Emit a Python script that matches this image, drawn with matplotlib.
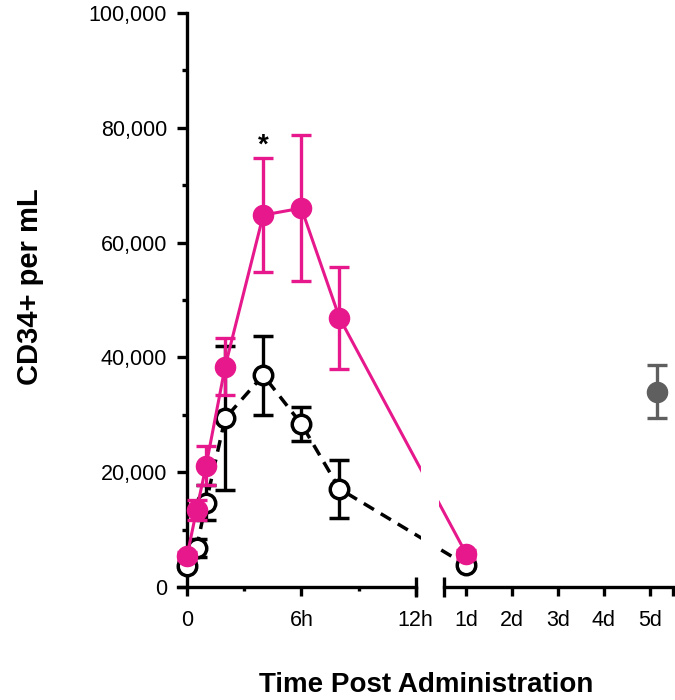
import matplotlib
matplotlib.use("Agg")
import matplotlib.pyplot as plt
from matplotlib.ticker import FuncFormatter, FixedLocator
import numpy as np

plt.rcParams['font.family'] = ['Liberation Sans', 'DejaVu Sans']

# ---------------- data ----------------
hours = [0, 0.5, 1, 2, 4, 6, 8]          # early time points (hours)
day_pts = [1]                           # late time points (days)

pink_hours_mean = [5400, 13400, 21100, 38400, 64800, 66000, 46900]
pink_hours_err = [700, 1700, 3400, 4900, 9900, 12700, 8900]
pink_day_mean = [5700]
pink_day_err = [800]

black_hours_mean = [3700, 6800, 14700, 29400, 36900, 28400, 17100]
black_hours_err = [600, 1500, 3100, 12500, 6900, 2900, 5000]
black_day_mean = [3800]
black_day_err = [500]

gray_day = [5.17]
gray_mean = [34000]
gray_err = [4600]

hour_ticks = [0, 6, 12]
hour_labels = ['0', '6h', '12h']
hour_minor = [3, 9]
day_ticks = [1, 2, 3, 4, 5]
day_labels = ['1d', '2d', '3d', '4d', '5d']
day_minor = [5.5]
y_ticks = [0, 20000, 40000, 60000, 80000, 100000]

PINK = '#E6188C'
GRAY = '#5F5F5F'
LW = 2.4

# ---------------- figure ----------------
fig = plt.figure(figsize=(6.75, 7), dpi=100)
W, H = 675.0, 700.0
bottom = 1 - 587 / H
height = 574 / H
ax1 = fig.add_axes([177.5 / W, bottom, (421.4 - 177.5) / W, height])
ax2 = fig.add_axes([439.0 / W, bottom, (672.6 - 439.0) / W, height])

ax1.set_xlim(-0.5, 12.3)
ax2.set_xlim(0.4, 5.5)
for ax in (ax1, ax2):
    ax.set_ylim(0, 100000)
    ax.patch.set_alpha(0)
    for s in ('top', 'right'):
        ax.spines[s].set_visible(False)
    ax.spines['bottom'].set_linewidth(LW)

ax1.spines['left'].set_position(('data', 0))
ax1.spines['left'].set_linewidth(LW)
ax1.spines['bottom'].set_bounds(-0.5, 12)
ax2.spines['left'].set_visible(False)
ax2.spines['bottom'].set_bounds(0.5, 5.5)
ax2.tick_params(axis='y', left=False, labelleft=False)

# y axis ticks
ax1.yaxis.set_major_locator(FixedLocator(y_ticks))
ax1.yaxis.set_minor_locator(FixedLocator(np.arange(10000, 100000, 20000)))
ax1.yaxis.set_major_formatter(FuncFormatter(lambda v, p: f"{int(v):,}"))
ax1.tick_params(axis='y', which='major', length=7.5, width=LW, labelsize=15.5, pad=7, direction='out')
ax1.tick_params(axis='y', which='minor', length=3.8, width=LW, direction='out')

# x axis ticks
ax1.xaxis.set_major_locator(FixedLocator(hour_ticks))
ax1.set_xticklabels(hour_labels)
ax1.xaxis.set_minor_locator(FixedLocator(hour_minor))
ax1.tick_params(axis='x', which='major', length=6.5, width=LW, labelsize=15.5, pad=10, direction='out')
ax1.tick_params(axis='x', which='minor', length=3.2, width=LW, direction='out')

ax2.xaxis.set_major_locator(FixedLocator(day_ticks))
ax2.set_xticklabels(day_labels)
ax2.xaxis.set_minor_locator(FixedLocator(day_minor))
ax2.tick_params(axis='x', which='major', length=6.5, width=LW, labelsize=15.5, pad=10, direction='out')
ax2.tick_params(axis='x', which='minor', length=6.5, width=LW, direction='out')

# break marks at the ends of the two x segments
ax1.plot([12], [0], marker='|', markersize=14, mew=LW, color='black',
         transform=ax1.get_xaxis_transform(), clip_on=False, zorder=6)
ax2.plot([0.5], [0], marker='|', markersize=14, mew=LW, color='black',
         transform=ax2.get_xaxis_transform(), clip_on=False, zorder=6)


def to_ax(src, dst, x, y):
    """Convert a data point of axes src into data coords of axes dst."""
    d = src.transData.transform((x, y))
    return dst.transData.inverted().transform(d)


def draw_series(hmean, herr, dmean, derr, line_kw, mk_kw, z):
    # connecting line spanning the break
    x_day_in_1 = [to_ax(ax2, ax1, dx, dy)[0] for dx, dy in zip(day_pts, dmean)]
    x_hr_in_2 = [to_ax(ax1, ax2, hours[-1], hmean[-1])[0]]
    ax1.plot(list(hours) + x_day_in_1, list(hmean) + list(dmean), zorder=z, **line_kw)
    ax2.plot(x_hr_in_2 + list(day_pts), [hmean[-1]] + list(dmean), zorder=z, **line_kw)
    ax1.errorbar(hours, hmean, yerr=herr, linestyle='none', zorder=z + 1,
                 clip_on=False, **mk_kw)
    ax2.errorbar(day_pts, dmean, yerr=derr, linestyle='none', zorder=z + 1,
                 clip_on=False, **mk_kw)


black_line = dict(color='black', lw=2.5, linestyle=(0, (3.4, 2.3)), solid_capstyle='butt')
black_mk = dict(fmt='o', color='black', ecolor='black', elinewidth=LW, capsize=7.2,
                capthick=LW, markersize=13.3, markeredgewidth=2.5,
                markerfacecolor='white', markeredgecolor='black')
draw_series(black_hours_mean, black_hours_err, black_day_mean, black_day_err,
            black_line, black_mk, 2)

pink_line = dict(color=PINK, lw=2.2, linestyle='-')
pink_mk = dict(fmt='o', color=PINK, ecolor=PINK, elinewidth=LW, capsize=7.2,
               capthick=LW, markersize=14.5, markeredgecolor=PINK)
draw_series(pink_hours_mean, pink_hours_err, pink_day_mean, pink_day_err,
            pink_line, pink_mk, 4)

ax2.errorbar(gray_day, gray_mean, yerr=gray_err, fmt='o', color=GRAY, ecolor=GRAY,
             elinewidth=LW, capsize=7.2, capthick=LW, markersize=14.5,
             markeredgecolor=GRAY, zorder=5, clip_on=False)

# significance mark at 4h
i4 = hours.index(4)
ax1.text(4, pink_hours_mean[i4] + pink_hours_err[i4] + 900, '*', ha='center',
         va='baseline', fontsize=20, fontweight='bold', color='black')

# axis titles
fig.text(30 / W, 1 - 287 / H, 'CD34+ per mL', rotation=90, ha='center', va='center',
         fontsize=21, fontweight='bold')
fig.text(426 / W, 1 - 685 / H, 'Time Post Administration', ha='center', va='center',
         fontsize=20, fontweight='bold')

fig.savefig('out.png', dpi=100)
